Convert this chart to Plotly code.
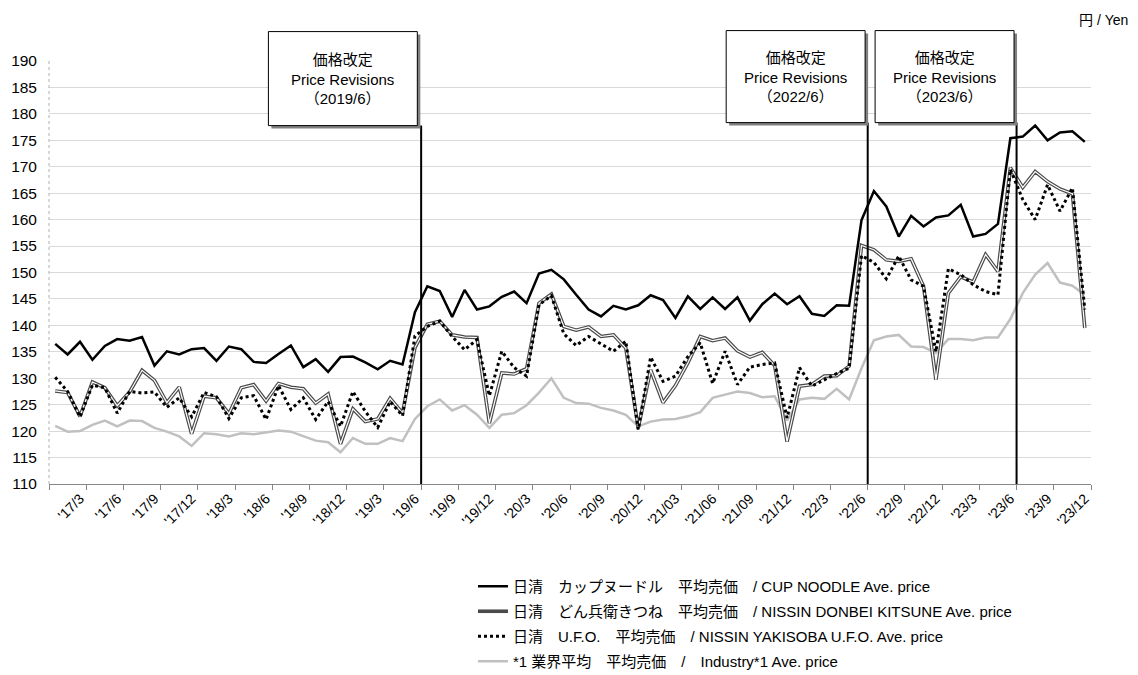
import plotly.graph_objects as go

# ---------------- data ----------------
months = [f"{y}/{m}" for y in range(2017, 2024) for m in range(1, 13)]

cup_noodle = [
    136.5, 134.5, 136.9, 133.5, 136.1, 137.4, 137.1, 137.8, 132.4, 135.1, 134.5, 135.5,
    135.7, 133.3, 136.0, 135.5, 133.1, 132.9, 134.6, 136.2, 132.1, 133.6, 131.2, 134.0,
    134.1, 133.0, 131.7, 133.3, 132.6, 142.5, 147.4, 146.5, 141.6, 146.7, 143.0, 143.6,
    145.4, 146.4, 144.2, 149.8, 150.5, 148.7, 145.8, 143.0, 141.7, 143.7, 143.0, 143.8,
    145.7, 144.8, 141.4, 145.5, 143.1, 145.3, 143.1, 145.3, 140.9, 144.0, 146.0, 144.0,
    145.5, 142.2, 141.8, 143.8, 143.7, 159.9, 165.4, 162.5, 156.8, 160.7, 158.7, 160.4,
    160.8, 162.8, 156.8, 157.3, 159.2, 175.4, 175.7, 177.8, 175.0, 176.5, 176.7, 174.7,
]
donbei = [
    127.6, 127.3, 122.8, 129.3, 128.2, 124.8, 127.4, 131.5, 129.6, 125.4, 128.3, 119.5,
    126.6, 126.3, 123.3, 128.2, 128.8, 125.7, 129.0, 128.3, 128.0, 125.3, 127.0, 117.6,
    124.2, 121.8, 122.3, 126.2, 123.4, 135.8, 140.2, 140.8, 138.2, 137.8, 137.7, 121.5,
    131.0, 130.8, 131.8, 144.2, 145.9, 139.8, 139.1, 139.7, 137.9, 138.2, 135.7, 120.6,
    131.6, 125.4, 128.6, 132.9, 137.9, 137.1, 137.6, 135.2, 134.0, 134.9, 132.4, 118.0,
    128.5, 128.8, 130.4, 130.5, 132.3, 155.1, 154.3, 152.4, 152.1, 152.6, 147.4, 129.7,
    146.1, 149.2, 148.2, 153.4, 150.2, 169.8, 166.1, 169.1, 167.2, 165.8, 164.9, 139.5,
]
ufo = [
    130.2, 127.5, 122.7, 128.7, 128.2, 123.4, 127.5, 127.2, 127.4, 124.5, 126.3, 122.7,
    127.3, 126.5, 122.4, 126.3, 126.7, 122.2, 128.6, 124.1, 126.3, 122.2, 125.6, 120.9,
    127.5, 123.7, 120.7, 125.6, 122.9, 138.0, 139.8, 140.8, 137.9, 135.4, 137.3, 126.7,
    135.1, 132.0, 130.4, 143.9, 145.6, 138.4, 136.2, 137.9, 136.5, 135.1, 137.0, 120.3,
    134.0, 129.4, 130.4, 134.1, 136.7, 129.0, 135.1, 128.8, 132.1, 132.6, 132.9, 122.5,
    132.0, 128.5, 129.7, 130.9, 131.9, 153.2, 151.9, 148.8, 153.1, 148.6, 147.4, 135.0,
    150.7, 149.6, 147.7, 146.4, 145.8, 169.5, 163.8, 160.0, 166.6, 161.6, 166.0, 143.0,
]
industry = [
    121.0, 119.9, 120.0, 121.2, 122.0, 120.9, 122.0, 121.9, 120.6, 119.9, 119.0, 117.2,
    119.6, 119.4, 119.0, 119.6, 119.4, 119.8, 120.1, 119.9, 119.1, 118.2, 117.9, 116.0,
    118.7, 117.6, 117.6, 118.7, 118.1, 122.3, 124.7, 126.0, 123.9, 124.9, 123.1, 120.6,
    123.1, 123.4, 124.9, 127.3, 130.0, 126.3, 125.3, 125.2, 124.4, 123.9, 123.1, 120.9,
    121.8, 122.2, 122.3, 122.8, 123.6, 126.3, 126.9, 127.5, 127.2, 126.4, 126.6, 122.0,
    126.0, 126.3, 126.1, 128.0, 126.0, 131.9, 137.2, 137.9, 138.2, 136.0, 135.9, 134.8,
    137.4, 137.4, 137.2, 137.7, 137.7, 141.2, 146.1, 149.6, 151.8, 148.1, 147.5, 145.8,
]

tick_labels = ["'17/3", "'17/6", "'17/9", "'17/12", "'18/3", "'18/6", "'18/9", "'18/12",
               "'19/3", "'19/6", "'19/9", "'19/12", "'20/3", "'20/6", "'20/9", "'20/12",
               "'21/03", "'21/06", "'21/09", "'21/12", "'22/3", "'22/6", "'22/9", "'22/12",
               "'23/3", "'23/6", "'23/9", "'23/12"]

revision_months = ["2019/6", "2022/6", "2023/6"]
revision_labels = ["価格改定<br>Price Revisions<br>（2019/6）",
                   "価格改定<br>Price Revisions<br>（2022/6）",
                   "価格改定<br>Price Revisions<br>（2023/6）"]

series_names = ["日清　カップヌードル　平均売価　/ CUP NOODLE Ave. price",
                "日清　どん兵衛きつね　平均売価　/ NISSIN DONBEI KITSUNE Ave. price",
                "日清　U.F.O.　平均売価　/ NISSIN YAKISOBA U.F.O. Ave. price",
                "*1 業界平均　平均売価　/　Industry*1 Ave. price"]

# ---------------- geometry ----------------
W, H = 1138, 675
L, R, T, B = 48.5, 47, 61.4, 190.7
PW, PH = W - L - R, H - T - B

def px(xp):
    return (xp - L) / PW

def py(yp):
    return (H - B - yp) / PH

FONT = "Liberation Sans, Arial, Noto Sans CJK JP, sans-serif"
x = list(range(len(months)))
label_idx = [months.index(m) for m in months if int(m.split("/")[1]) % 3 == 0]

fig = go.Figure()

fig.add_trace(go.Scatter(x=x, y=industry, mode="lines", name=series_names[3],
                         line=dict(color="#c0c0c0", width=2.5),
                         legendgroup="g4", legendrank=4))
fig.add_trace(go.Scatter(x=x, y=donbei, mode="lines", name=series_names[1],
                         line=dict(color="#4a4a4a", width=3.6),
                         legendgroup="g2", legendrank=2))
fig.add_trace(go.Scatter(x=x, y=donbei, mode="lines", name=series_names[1],
                         line=dict(color="#ffffff", width=1.2),
                         legendgroup="g2", showlegend=False))
fig.add_trace(go.Scatter(x=x, y=ufo, mode="lines", name=series_names[2],
                         line=dict(color="#000000", width=3, dash="dot"),
                         legendgroup="g3", legendrank=3))
fig.add_trace(go.Scatter(x=x, y=cup_noodle, mode="lines", name=series_names[0],
                         line=dict(color="#000000", width=2.5),
                         legendgroup="g1", legendrank=1))

shapes = []
# dotted y-axis line
shapes.append(dict(type="line", xref="paper", yref="paper", x0=0, x1=0, y0=0, y1=1,
                   line=dict(color="#b0b0b0", width=1, dash="dot")))

boxes = [(268, 417, 32, 126), (726, 865, 31, 123), (875, 1014, 31, 123)]
annotations = []
for m, lab, (bx0, bx1, by0, by1) in zip(revision_months, revision_labels, boxes):
    xi = months.index(m) + 0.5
    shapes.append(dict(type="line", xref="x", yref="paper", x0=xi, x1=xi,
                       y0=0, y1=py(by1), line=dict(color="#000000", width=2)))
    shapes.append(dict(type="rect", xref="paper", yref="paper",
                       x0=px(bx0 + 3), x1=px(bx1 + 3), y0=py(by1 + 3), y1=py(by0 + 3),
                       fillcolor="#808080", line=dict(width=0)))
    shapes.append(dict(type="rect", xref="paper", yref="paper",
                       x0=px(bx0), x1=px(bx1), y0=py(by1), y1=py(by0),
                       fillcolor="#ffffff", line=dict(color="#000000", width=1)))
    annotations.append(dict(xref="paper", yref="paper", x=px((bx0 + bx1) / 2),
                            y=py((by0 + by1) / 2), text=lab, showarrow=False,
                            xanchor="center", yanchor="middle",
                            font=dict(family=FONT, size=15, color="#000000")))

annotations.append(dict(xref="paper", yref="paper", x=px(1130), y=py(20), text="円 / Yen",
                        showarrow=False, xanchor="right", yanchor="middle",
                        font=dict(family=FONT, size=14, color="#000000")))

fig.update_layout(
    width=W, height=H,
    margin=dict(l=L, r=R, t=T, b=B, pad=0, autoexpand=False),
    paper_bgcolor="white", plot_bgcolor="white",
    font=dict(family=FONT, size=15, color="#000000"),
    shapes=shapes, annotations=annotations,
    showlegend=True,
    legend=dict(xref="container", yref="container",
                x=473 / W, y=(H - 570) / H, xanchor="left", yanchor="top",
                font=dict(family=FONT, size=15, color="#000000"),
                tracegroupgap=2.5, bgcolor="rgba(0,0,0,0)", itemwidth=30),
    xaxis=dict(range=[-0.5, len(months) - 0.5], tickmode="array",
               tickvals=label_idx, ticktext=tick_labels, tickangle=-45,
               ticks="", showgrid=False, zeroline=False, automargin=False,
               showline=True, linecolor="#868686", linewidth=1,
               tickfont=dict(family=FONT, size=14),
               minor=dict(ticks="outside", tick0=-0.5, dtick=3, ticklen=5,
                          tickcolor="#868686", showgrid=False)),
    yaxis=dict(range=[110, 190], tickmode="linear", tick0=110, dtick=5,
               showgrid=True, gridcolor="#d9d9d9", gridwidth=1, zeroline=False,
               automargin=False, ticklabelstandoff=11,
               showline=False, ticks="", tickfont=dict(family=FONT, size=15.5)),
)

fig.write_html("out.html")
